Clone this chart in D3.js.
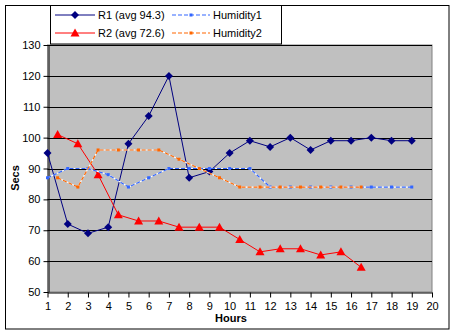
<!DOCTYPE html>
<html><head><meta charset="utf-8">
<script src="https://cdn.jsdelivr.net/npm/d3@7"></script>
<style>body{margin:0;background:#fff}svg{display:block;font-family:Arial,"Liberation Sans",sans-serif}</style>
</head><body>
<script>
const r1X = [1,2,3,4,5,6,7,8,9,10,11,12,13,14,15,16,17,18,19];
const r1Y = [95,72,69,71,98,107,120,87,89,95,99,97,100,96,99,99,100,99,99];
const r2X = [1.5,2.5,3.5,4.5,5.5,6.5,7.5,8.5,9.5,10.5,11.5,12.5,13.5,14.5,15.5,16.5];
const r2Y = [101,98,88,75,73,73,71,71,71,67,63,64,64,62,63,58];
const h1X = [1,2,3,4,5,6,7,8,9,10,11,12,13,14,15,16,17,18,19];
const h1Y = [87,90,90,88,84,87,90,90,90,90,90,84,84,84,84,84,84,84,84];
const h2X = [1.5,2.5,3.5,4.5,5.5,6.5,7.5,8.5,9.5,10.5,11.5,12.5,13.5,14.5,15.5,16.5];
const h2Y = [87,84,96,96,96,96,93,90,87,84,84,84,84,84,84,84];
const xTicks = [1,2,3,4,5,6,7,8,9,10,11,12,13,14,15,16,17,18,19,20];
const yTicks = [50,60,70,80,90,100,110,120,130];
const seriesNames = ["R1 (avg 94.3)","R2 (avg 72.6)","Humidity1","Humidity2"];

const W = 455, H = 334;
const svg = d3.select("body").append("svg").attr("width", W).attr("height", H);
const x = d3.scaleLinear().domain([1,20]).range([47.5,432]);
const y = d3.scaleLinear().domain([50,130]).range([292,45]);

// outer border
svg.append("rect").attr("x",5.5).attr("y",5.5).attr("width",443.5).attr("height",323.5)
  .attr("fill","#fff").attr("stroke","#000");

// plot area
svg.append("rect").attr("x",x(1)).attr("y",y(130)).attr("width",x(20)-x(1)).attr("height",y(50)-y(130))
  .attr("fill","#C0C0C0").attr("stroke","#808080");

// gridlines
svg.append("g").selectAll("line").data(yTicks.slice(1)).join("line")
  .attr("x1",x(1)).attr("x2",x(20)).attr("y1",d=>Math.round(y(d))+0.5).attr("y2",d=>Math.round(y(d))+0.5)
  .attr("stroke","#000");

// axes
const yAxis = svg.append("g").attr("transform",`translate(${Math.round(x(1))+0.5},0)`)
  .call(d3.axisLeft(y).tickValues(yTicks).tickSize(5).tickPadding(3).tickSizeOuter(0));
const xAxis = svg.append("g").attr("transform",`translate(0,${Math.round(y(50))+0.5})`)
  .call(d3.axisBottom(x).tickValues(xTicks).tickSize(5).tickPadding(5).tickSizeOuter(0));
[yAxis,xAxis].forEach(a=>{
  a.selectAll("path,line").attr("stroke","#000");
  a.selectAll("text").attr("font-size",11).attr("fill","#000").attr("font-family","Arial,'Liberation Sans',sans-serif");
});

// axis titles
svg.append("text").attr("x",231).attr("y",322).attr("text-anchor","middle")
  .attr("font-size",11).attr("font-weight","bold").text("Hours");
svg.append("text").attr("transform","translate(19,178) rotate(-90)").attr("text-anchor","middle")
  .attr("font-size",11).attr("font-weight","bold").text("Secs");

const line = d3.line().x(d=>x(d[0])).y(d=>y(d[1]));
const zip = (a,b)=>a.map((v,i)=>[v,b[i]]);
const diamond = () => "M0,-4L4,0L0,4L-4,0Z";
const tri = () => "M0,-4.5L4.5,3.5L-4.5,3.5Z";

const plot = svg.append("g");
function solidSeries(xs, ys, color, sym){
  const pts = zip(xs,ys);
  plot.append("path").datum(pts).attr("d",line).attr("fill","none").attr("stroke",color).attr("stroke-width",1);
  plot.append("g").selectAll("path").data(pts).join("path")
    .attr("transform",d=>`translate(${x(d[0])},${y(d[1])})`).attr("d",sym).attr("fill",color);
}
function dashSeries(xs, ys, color){
  const pts = zip(xs,ys);
  plot.append("path").datum(pts).attr("d",line).attr("fill","none").attr("stroke","#fff").attr("stroke-width",1.2);
  plot.append("path").datum(pts).attr("d",line).attr("fill","none").attr("stroke",color).attr("stroke-width",1.2)
    .attr("stroke-dasharray","4,2");
  plot.append("g").selectAll("rect").data(pts).join("rect")
    .attr("x",d=>x(d[0])-1.5).attr("y",d=>y(d[1])-1.5).attr("width",3).attr("height",3).attr("fill",color);
}
solidSeries(r1X,r1Y,"#000080",diamond);
solidSeries(r2X,r2Y,"#FF0000",tri);
dashSeries(h1X,h1Y,"#3366FF");
dashSeries(h2X,h2Y,"#FF6600");

// legend
const lg = svg.append("g");
lg.append("rect").attr("x",50.5).attr("y",5.5).attr("width",231).attr("height",38.5)
  .attr("fill","#fff").attr("stroke","#000");
const items = [
  {n:seriesNames[0], c:"#000080", sym:diamond, dash:false, lx:55, ty:15},
  {n:seriesNames[1], c:"#FF0000", sym:tri, dash:false, lx:55, ty:33},
  {n:seriesNames[2], c:"#3366FF", dash:true, lx:172, ty:15},
  {n:seriesNames[3], c:"#FF6600", dash:true, lx:172, ty:33}
];
items.forEach(it=>{
  const x1 = it.lx, x2 = it.dash ? 210 : 95, yy = it.ty;
  lg.append("line").attr("x1",x1).attr("x2",x2).attr("y1",yy).attr("y2",yy)
    .attr("stroke",it.c).attr("stroke-width",it.dash?1.2:1).attr("stroke-dasharray",it.dash?"4,2":null);
  if(it.dash){
    lg.append("rect").attr("x",(x1+x2)/2-1.5).attr("y",yy-1.5).attr("width",3).attr("height",3).attr("fill",it.c);
  } else {
    lg.append("path").attr("transform",`translate(${(x1+x2)/2},${yy})`).attr("d",it.sym).attr("fill",it.c);
  }
  lg.append("text").attr("x",x2+3).attr("y",yy+4).attr("font-size",11).text(it.n);
});
</script>
</body></html>
